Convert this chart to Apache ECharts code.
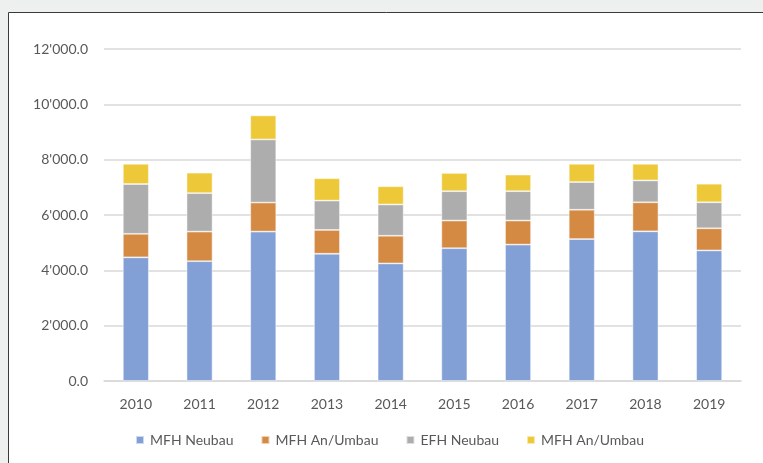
<!DOCTYPE html>
<html><head><meta charset="utf-8">
<script src="https://cdn.jsdelivr.net/npm/echarts@6/dist/echarts.min.js"></script>
<style>html,body{margin:0;padding:0;background:#eef0ef}#c{width:763px;height:463px}</style>
</head><body><div id="c"></div>
<script>
const categories = ['2010','2011','2012','2013','2014','2015','2016','2017','2018','2019'];
const mfhNeubau = [4470, 4330, 5400, 4600, 4250, 4800, 4930, 5130, 5410, 4720];
const mfhAnUmbau = [850, 1070, 1050, 860, 1000, 1000, 870, 1060, 1050, 800];
const efhNeubau = [1800, 1390, 2280, 1060, 1130, 1060, 1060, 1000, 790, 940];
const mfhAnUmbau2 = [730, 740, 870, 810, 660, 660, 600, 660, 600, 670];
const seriesNames = ['MFH Neubau','MFH An/Umbau','EFH Neubau','MFH An/Umbau '];
const colors = ['#82a0d6','#d58a44','#adadad','#edc93a'];
const yTicks = {min:0, max:12000, interval:2000};

const font = 'Lato, "Open Sans", sans-serif';
const chart = echarts.init(document.getElementById('c'), null, {renderer:'canvas'});
const data = [mfhNeubau, mfhAnUmbau, efhNeubau, mfhAnUmbau2];
chart.setOption({
  backgroundColor:'#eef0ef',
  animation:false,
  graphic:[{type:'rect', shape:{x:8.5,y:12.5,width:800,height:500}, style:{fill:'#fff', stroke:'#3a3a3a', lineWidth:1}, z:-10}],
  grid:{left:104, right:22, top:49, bottom:82},
  legend:{
    top:428, left:130, itemWidth:8, itemHeight:8, itemGap:27,
    icon:'rect',
    textStyle:{color:'#595959', fontSize:14, fontFamily:font, padding:[0,0,0,1]},
    data:seriesNames
  },
  xAxis:{
    type:'category', data:categories,
    axisLine:{lineStyle:{color:'#d9d9d9', width:1.5}},
    axisTick:{show:false},
    axisLabel:{color:'#595959', fontSize:14, fontFamily:font, margin:16}
  },
  yAxis:{
    type:'value', min:yTicks.min, max:yTicks.max, interval:yTicks.interval,
    axisLine:{show:false}, axisTick:{show:false},
    splitLine:{lineStyle:{color:'#d9d9d9', width:1.5}},
    axisLabel:{color:'#595959', fontSize:14, fontFamily:font, margin:16,
      formatter:v=>{const s=Math.round(v).toString().replace(/\B(?=(\d{3})+(?!\d))/g,"'");return s+'.0';}}
  },
  series: seriesNames.map((n,i)=>({
    name:n, type:'bar', stack:'total', barWidth:26,
    data:data[i],
    itemStyle:{color:colors[i], borderColor:'rgba(255,255,255,0.6)', borderWidth:0.8}
  }))
});
</script></body></html>
